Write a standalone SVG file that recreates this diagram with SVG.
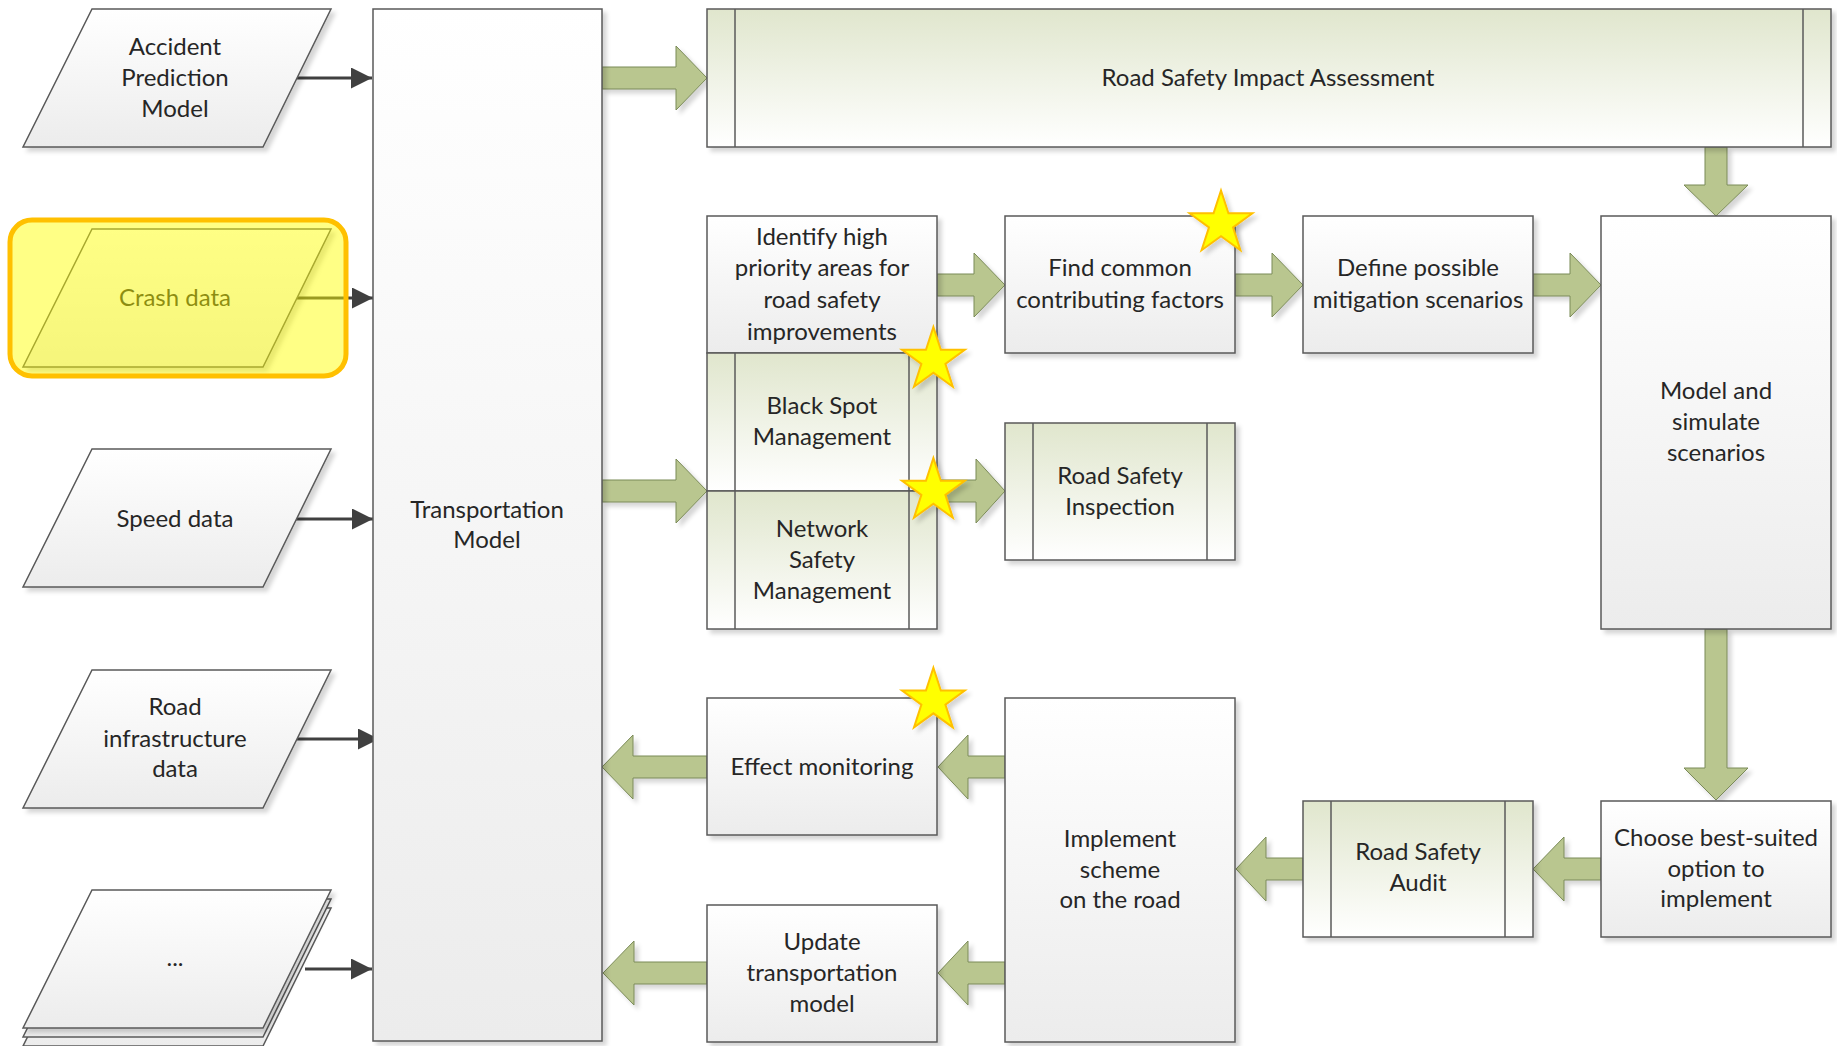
<svg xmlns="http://www.w3.org/2000/svg" width="1837" height="1046" viewBox="0 0 1837 1046">
<style>
.box{stroke:#5a5a5a;stroke-width:1.5}
.w{fill:url(#gW)}
.g{fill:url(#gG)}
.in{stroke:#5a5a5a;stroke-width:1.5;fill:none}
.t{font-family:Lato,"Liberation Sans",sans-serif;font-size:24px;fill:#262626;text-anchor:middle}
.ga{fill:#b9c68f;stroke:#7a8a58;stroke-width:1}
.ln{stroke:#404040;stroke-width:3;fill:none;marker-end:url(#ah)}
.star{fill:#ffff00;stroke:#ffc000;stroke-width:2}
</style>
<defs>
<linearGradient id="gW" x1="0" y1="0" x2="0" y2="1"><stop offset="0" stop-color="#ffffff"/><stop offset="1" stop-color="#ececec"/></linearGradient>
<linearGradient id="gG" x1="0" y1="0" x2="0" y2="1"><stop offset="0" stop-color="#e0e6cd"/><stop offset="1" stop-color="#ffffff"/></linearGradient>
<filter id="sh" x="-10%" y="-10%" width="130%" height="130%"><feDropShadow dx="4" dy="4" stdDeviation="2" flood-color="#000" flood-opacity="0.16"/></filter>
<marker id="ah" markerUnits="userSpaceOnUse" markerWidth="22" markerHeight="22" refX="21" refY="10.5" orient="auto"><path d="M0,0 L21,10.5 L0,21 Z" fill="#404040"/></marker>
<polygon id="st" points="0,-33 7.43,-10.22 31.39,-10.2 12.01,3.9 19.4,26.7 0,12.64 -19.4,26.7 -12.01,3.9 -31.39,-10.2 -7.43,-10.22"/>
</defs>
<rect width="1837" height="1046" fill="#fff"/>

<g id="connectors">
<line class="ln" x1="294" y1="78" x2="372" y2="78"/>
<line class="ln" x1="294" y1="298" x2="373" y2="298"/>
<line class="ln" x1="294" y1="519" x2="373" y2="519"/>
<line class="ln" x1="294" y1="739" x2="379" y2="739"/>
<line class="ln" x1="305" y1="969" x2="372" y2="969"/>
<g filter="url(#sh)">
<polygon class="ga" points="602,67 676,67 676,46 707,78 676,110 676,89 602,89"/>
<polygon class="ga" points="602,480 676,480 676,459 707,491 676,523 676,502 602,502"/>
<polygon class="ga" points="937,274 974,274 974,253 1005,285 974,317 974,296 937,296"/>
<polygon class="ga" points="1235,274 1272,274 1272,253 1303,285 1272,317 1272,296 1235,296"/>
<polygon class="ga" points="1533,274 1570,274 1570,253 1601,285 1570,317 1570,296 1533,296"/>
<polygon class="ga" points="937,480 976,480 976,459 1005,491 976,523 976,502 937,502"/>
<polygon class="ga" points="1705,147 1705,185 1684,185 1716,216 1748,185 1727,185 1727,147"/>
<polygon class="ga" points="1705,629 1705,768 1684,768 1716,800 1748,768 1727,768 1727,629"/>
<polygon class="ga" points="1601,858 1564,858 1564,837 1533,869 1564,901 1564,880 1601,880"/>
<polygon class="ga" points="1303,858 1266,858 1266,837 1236,869 1266,901 1266,880 1303,880"/>
<polygon class="ga" points="1005,756 968,756 968,735 938,767 968,799 968,778 1005,778"/>
<polygon class="ga" points="1005,962 968,962 968,941 938,973 968,1005 968,984 1005,984"/>
<polygon class="ga" points="707,756 633,756 633,735 602,767 633,799 633,778 707,778"/>
<polygon class="ga" points="707,962 634,962 634,941 603,973 634,1005 634,984 707,984"/>
</g>
</g>

<g id="apm">
<polygon class="box w" filter="url(#sh)" points="92,9 331,9 263,147 23,147"/>
<text class="t" x="175"><tspan x="175" y="55">Accident</tspan><tspan x="175" y="86">Prediction</tspan><tspan x="175" y="117">Model</tspan></text>
</g>
<g id="crash">
<polygon class="box w" filter="url(#sh)" points="92,229 331,229 263,367 23,367"/>
<text class="t" x="175" y="306">Crash data</text>
</g>
<g id="speed">
<polygon class="box w" filter="url(#sh)" points="92,449 331,449 263,587 23,587"/>
<text class="t" x="175" y="527">Speed data</text>
</g>
<g id="road">
<polygon class="box w" filter="url(#sh)" points="92,670 331,670 263,808 23,808"/>
<text class="t" x="175"><tspan x="175" y="715">Road</tspan><tspan x="175" y="747">infrastructure</tspan><tspan x="175" y="777">data</tspan></text>
</g>
<g id="more">
<polygon class="box w" points="92,908 331,908 263,1046 23,1046"/>
<polygon class="box w" points="92,899 331,899 263,1037 23,1037"/>
<polygon class="box w" filter="url(#sh)" points="92,890 331,890 263,1028 23,1028"/>
<text class="t" x="175" y="966">...</text>
</g>

<g id="tm">
<rect class="box w" filter="url(#sh)" x="373" y="9" width="229" height="1032"/>
<text class="t"><tspan x="487" y="518">Transportation</tspan><tspan x="487" y="548">Model</tspan></text>
</g>
<g id="rsia">
<rect class="box g" filter="url(#sh)" x="707" y="9" width="1124" height="138"/>
<line class="in" x1="735" y1="9" x2="735" y2="147"/><line class="in" x1="1803" y1="9" x2="1803" y2="147"/>
<text class="t" x="1268" y="86">Road Safety Impact Assessment</text>
</g>
<g id="identify">
<rect class="box w" filter="url(#sh)" x="707" y="216" width="230" height="137"/>
<text class="t"><tspan x="822" y="245">Identify high</tspan><tspan x="822" y="276">priority areas for</tspan><tspan x="822" y="308">road safety</tspan><tspan x="822" y="340">improvements</tspan></text>
</g>
<g id="find">
<rect class="box w" filter="url(#sh)" x="1005" y="216" width="230" height="137"/>
<text class="t"><tspan x="1120" y="276">Find common</tspan><tspan x="1120" y="308">contributing factors</tspan></text>
</g>
<g id="define">
<rect class="box w" filter="url(#sh)" x="1303" y="216" width="230" height="137"/>
<text class="t"><tspan x="1418" y="276">Define possible</tspan><tspan x="1418" y="308">mitigation scenarios</tspan></text>
</g>
<g id="model">
<rect class="box w" filter="url(#sh)" x="1601" y="216" width="230" height="413"/>
<text class="t"><tspan x="1716" y="399">Model and</tspan><tspan x="1716" y="430">simulate</tspan><tspan x="1716" y="461">scenarios</tspan></text>
</g>
<g id="bsm">
<rect class="box g" filter="url(#sh)" x="707" y="353" width="230" height="138"/>
<line class="in" x1="735" y1="353" x2="735" y2="491"/><line class="in" x1="909" y1="353" x2="909" y2="491"/>
<text class="t"><tspan x="822" y="414">Black Spot</tspan><tspan x="822" y="445">Management</tspan></text>
</g>
<g id="nsm">
<rect class="box g" filter="url(#sh)" x="707" y="491" width="230" height="138"/>
<line class="in" x1="735" y1="491" x2="735" y2="629"/><line class="in" x1="909" y1="491" x2="909" y2="629"/>
<text class="t"><tspan x="822" y="537">Network</tspan><tspan x="822" y="568">Safety</tspan><tspan x="822" y="599">Management</tspan></text>
</g>
<g id="rsi">
<rect class="box g" filter="url(#sh)" x="1005" y="423" width="230" height="137"/>
<line class="in" x1="1033" y1="423" x2="1033" y2="560"/><line class="in" x1="1207" y1="423" x2="1207" y2="560"/>
<text class="t"><tspan x="1120" y="484">Road Safety</tspan><tspan x="1120" y="515">Inspection</tspan></text>
</g>
<g id="effect">
<rect class="box w" filter="url(#sh)" x="707" y="698" width="230" height="137"/>
<text class="t" x="822" y="775">Effect monitoring</text>
</g>
<g id="implement">
<rect class="box w" filter="url(#sh)" x="1005" y="698" width="230" height="344"/>
<text class="t"><tspan x="1120" y="847">Implement</tspan><tspan x="1120" y="878">scheme</tspan><tspan x="1120" y="908">on the road</tspan></text>
</g>
<g id="update">
<rect class="box w" filter="url(#sh)" x="707" y="905" width="230" height="137"/>
<text class="t"><tspan x="822" y="950">Update</tspan><tspan x="822" y="981">transportation</tspan><tspan x="822" y="1012">model</tspan></text>
</g>
<g id="rsa">
<rect class="box g" filter="url(#sh)" x="1303" y="801" width="230" height="136"/>
<line class="in" x1="1331" y1="801" x2="1331" y2="937"/><line class="in" x1="1505" y1="801" x2="1505" y2="937"/>
<text class="t"><tspan x="1418" y="860">Road Safety</tspan><tspan x="1418" y="891">Audit</tspan></text>
</g>
<g id="choose">
<rect class="box w" filter="url(#sh)" x="1601" y="801" width="230" height="136"/>
<text class="t"><tspan x="1716" y="846">Choose best-suited</tspan><tspan x="1716" y="877">option to</tspan><tspan x="1716" y="907">implement</tspan></text>
</g>

<g id="stars" filter="url(#sh)">
<use href="#st" class="star" x="1221" y="223.5"/>
<use href="#st" class="star" x="933.4" y="360"/>
<use href="#st" class="star" x="933.4" y="491"/>
<use href="#st" class="star" x="933.4" y="700.7"/>
</g>

<g id="highlight">
<rect x="10" y="220" width="336" height="156" rx="22" fill="#ffff00" fill-opacity="0.48" stroke="#ffc000" stroke-width="5"/>
</g>
</svg>
